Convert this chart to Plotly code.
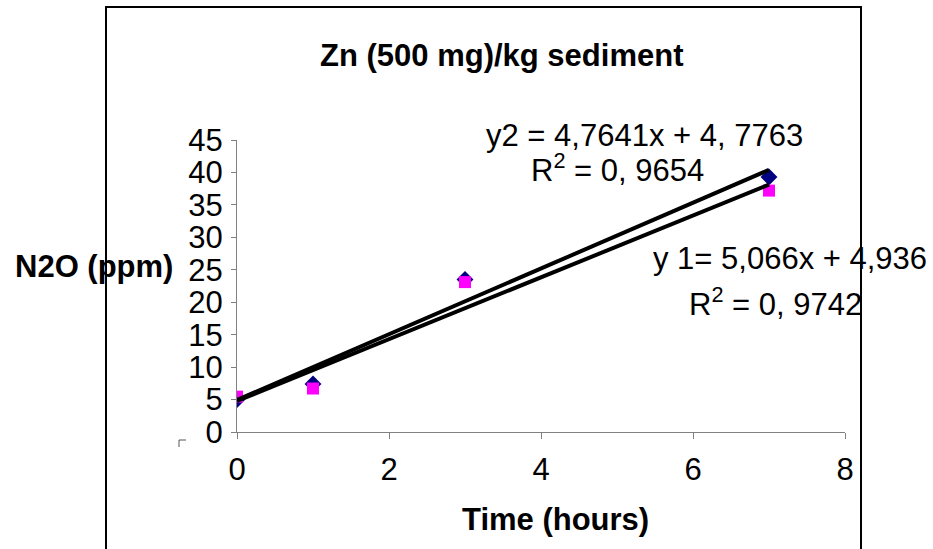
import plotly.graph_objects as go

# ---- data ----
time_hours = [0, 1, 3, 7]
n2o_series1 = [5.0, 7.4, 23.5, 39.3]   # navy diamonds (trend y1)
n2o_series2 = [5.45, 6.7, 23.1, 37.2]  # magenta squares (trend y2)

trend_slopes = [5.066, 4.7641]
trend_intercepts = [4.936, 4.7763]
trend_x = [0, 7]

title_text = "Zn (500 mg)/kg sediment"
x_title = "Time (hours)"
y_title = "N2O (ppm)"
eq_texts = ["y2 = 4,7641x + 4, 7763", "R<sup>2</sup> = 0, 9654",
            "y 1= 5,066x + 4,936", "R<sup>2</sup> = 0, 9742"]
x_ticks = [0, 2, 4, 6, 8]
y_ticks = [0, 5, 10, 15, 20, 25, 30, 35, 40, 45]

FONT = "Liberation Sans, Arial, sans-serif"
FS = 31

# plot area in pixels
L, R, T, B = 237, 845, 140, 432
W, H = 933, 549
def px(x):
    return (x - L) / (R - L)
def py(y):
    return (B - y) / (B - T)

fig = go.Figure()
fig.add_trace(go.Scatter(x=time_hours, y=n2o_series1, mode="markers",
                         marker=dict(symbol="diamond", size=13, color="#000080"),
                         showlegend=False))
fig.add_trace(go.Scatter(x=time_hours, y=n2o_series2, mode="markers",
                         marker=dict(symbol="square", size=12, color="#FF00FF"),
                         showlegend=False))
for s, b in zip(trend_slopes, trend_intercepts):
    fig.add_trace(go.Scatter(x=trend_x, y=[s * xx + b for xx in trend_x], mode="lines",
                             line=dict(color="black", width=4), showlegend=False))

fig.update_layout(
    width=W, height=H,
    margin=dict(l=L, r=W - R, t=T, b=H - B, pad=0),
    paper_bgcolor="white", plot_bgcolor="white",
    font=dict(family=FONT, size=FS, color="black"),
    xaxis=dict(range=[0, 8], tickvals=x_ticks, showgrid=False, zeroline=False,
               showline=True, linecolor="#808080", linewidth=1,
               ticks="outside", ticklen=6, tickcolor="#808080",
               tickfont=dict(size=FS), ticklabelstandoff=4),
    yaxis=dict(range=[0, 45], tickvals=y_ticks, showgrid=False, zeroline=False,
               showline=True, linecolor="#808080", linewidth=1,
               ticks="outside", ticklen=5, tickcolor="#808080",
               tickfont=dict(size=FS), ticklabelstandoff=2),
)

ann = [
    dict(text="<b>" + title_text + "</b>", x=px(501), y=py(56), xanchor="center"),
    dict(text="<b>" + x_title + "</b>", x=px(555.5), y=py(519), xanchor="center"),
    dict(text="<b>" + y_title + "</b>", x=px(13), y=py(266), xanchor="left"),
    dict(text=eq_texts[0], x=px(644), y=py(135), xanchor="center"),
    dict(text=eq_texts[1], x=px(617.5), y=py(168), xanchor="center"),
    dict(text=eq_texts[2], x=px(789.5), y=py(258), xanchor="center"),
    dict(text=eq_texts[3], x=px(775), y=py(302), xanchor="center"),
]
for a in ann:
    fig.add_annotation(xref="paper", yref="paper", showarrow=False, yanchor="middle",
                       font=dict(family=FONT, size=FS, color="black"), **a)

# outer chart border
fig.add_shape(type="rect", xref="paper", yref="paper",
              x0=px(106), x1=px(861), y0=py(600), y1=py(7),
              line=dict(color="black", width=2), fillcolor="rgba(0,0,0,0)", layer="above")
# small corner mark
fig.add_shape(type="path", xref="paper", yref="paper",
              path=f"M {px(179)} {py(447)} L {px(179)} {py(440)} L {px(186)} {py(440)}",
              line=dict(color="#555555", width=1))

fig.write_html("out.html")
